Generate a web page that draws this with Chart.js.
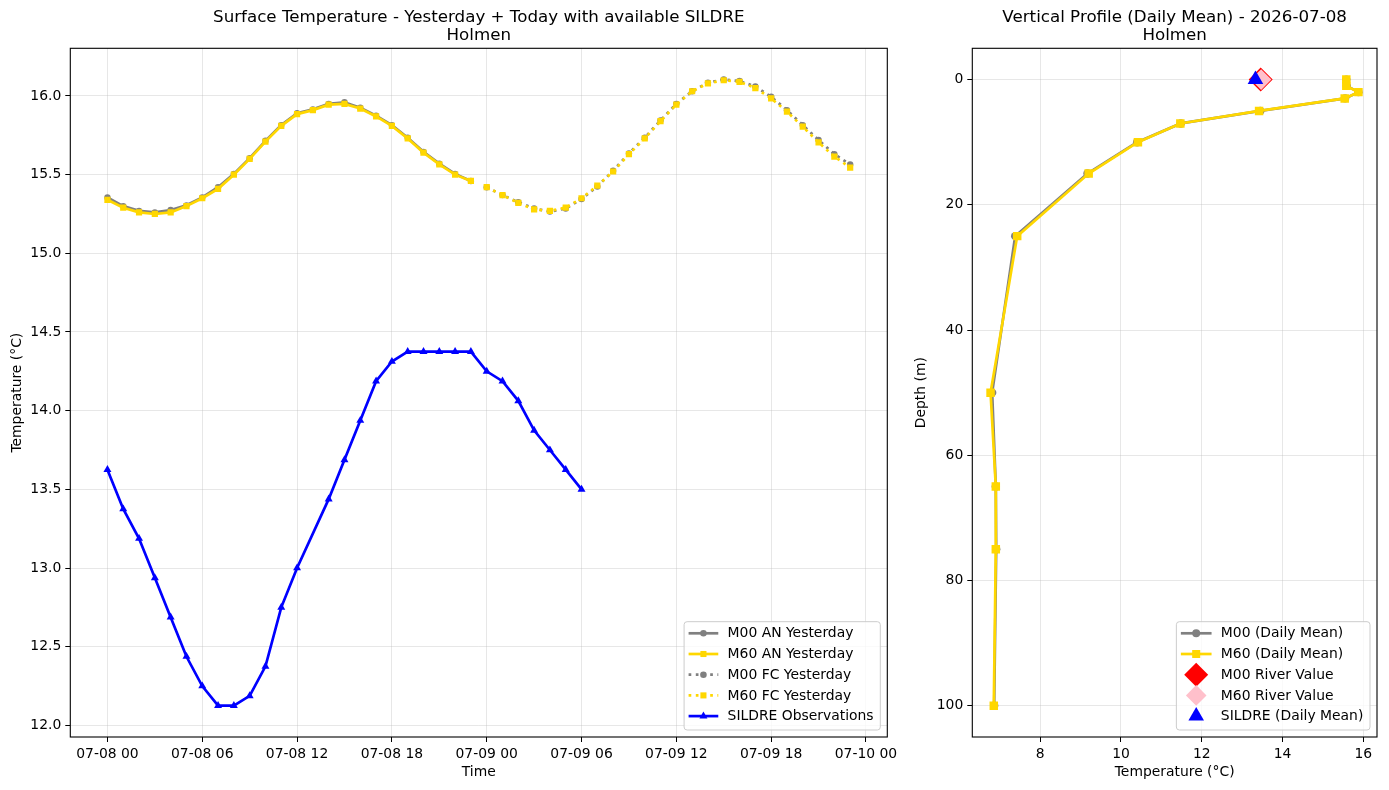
<!DOCTYPE html>
<html>
<head>
<meta charset="utf-8">
<script src="https://cdn.jsdelivr.net/npm/chart.js@4.4.1/dist/chart.umd.min.js"></script>
<style>
  html, body { margin: 0; padding: 0; background: #fff; }
  #wrap { position: relative; width: 1389px; height: 790px; overflow: hidden; }
  canvas { position: absolute; top: 0; }
  #surfaceChart { left: 0; }
  #profileChart { left: 890px; }
</style>
</head>
<body>
<div id="wrap">
  <canvas id="surfaceChart" width="905" height="790"></canvas>
  <canvas id="profileChart" width="499" height="790"></canvas>
</div>
<script>
// ── Data: surface temperature (hours since 07-08 00) ─────────────────────────
const anHours = [0, 1, 2, 3, 4, 5, 6, 7, 8, 9, 10, 11, 12, 13, 14, 15, 16, 17, 18, 19, 20, 21, 22, 23];
const fcHours = [24, 25, 26, 27, 28, 29, 30, 31, 32, 33, 34, 35, 36, 37, 38, 39, 40, 41, 42, 43, 44, 45, 46, 47];

const m00AnTemps = [15.355, 15.30, 15.27, 15.26, 15.275, 15.305, 15.355, 15.42, 15.505, 15.605, 15.715, 15.815,
                    15.89, 15.915, 15.95, 15.96, 15.925, 15.875, 15.815, 15.735, 15.645, 15.57, 15.505, 15.46];
const m60AnTemps = [15.34, 15.29, 15.26, 15.25, 15.26, 15.30, 15.35, 15.41, 15.50, 15.60, 15.71, 15.81,
                    15.885, 15.91, 15.945, 15.95, 15.92, 15.87, 15.81, 15.73, 15.64, 15.565, 15.50, 15.46];
const m00FcTemps = [15.42, 15.37, 15.325, 15.285, 15.265, 15.285, 15.345, 15.425, 15.525, 15.635, 15.735, 15.845,
                    15.95, 16.03, 16.085, 16.105, 16.095, 16.06, 15.995, 15.91, 15.815, 15.72, 15.63, 15.565];
const m60FcTemps = [15.42, 15.37, 15.32, 15.28, 15.27, 15.29, 15.35, 15.43, 15.52, 15.63, 15.73, 15.84,
                    15.945, 16.03, 16.08, 16.10, 16.09, 16.05, 15.985, 15.90, 15.805, 15.705, 15.615, 15.545];

const sildreHours = [0, 1, 2, 3, 4, 5, 6, 7, 8, 9, 10, 11, 12, 14, 15, 16, 17, 18, 19, 20, 21, 22, 23,
                     24, 25, 26, 27, 28, 29, 30];
const sildreTemps = [13.625, 13.375, 13.1875, 12.9375, 12.6875, 12.4375, 12.25, 12.125, 12.125, 12.1875, 12.375,
                     12.75, 13.0, 13.4375, 13.6875, 13.9375, 14.1875, 14.3125, 14.375, 14.375, 14.375, 14.375,
                     14.375, 14.25, 14.1875, 14.0625, 13.875, 13.75, 13.625, 13.5];

const timeTicks = [0, 6, 12, 18, 24, 30, 36, 42, 48];
const timeTickLabels = ['07-08 00', '07-08 06', '07-08 12', '07-08 18', '07-09 00',
                        '07-09 06', '07-09 12', '07-09 18', '07-10 00'];
const surfaceTempTicks = [12.0, 12.5, 13.0, 13.5, 14.0, 14.5, 15.0, 15.5, 16.0];

// ── Data: vertical profile ───────────────────────────────────────────────────
const profileDepths = [0, 1, 2, 3, 5, 7, 10, 15, 25, 50, 65, 75, 100];
const m00ProfileTemps = [15.58, 15.59, 15.88, 15.55, 13.45, 11.48, 10.40, 9.17, 7.38, 6.81, 6.90, 6.91, 6.86];
const m60ProfileTemps = [15.58, 15.58, 15.88, 15.54, 13.42, 11.47, 10.42, 9.20, 7.43, 6.77, 6.90, 6.90, 6.85];
const riverDepths = [0];
const m00RiverTemps = [13.46];
const m60RiverTemps = [13.47];
const sildreMeanDepths = [0];
const sildreMeanTemps = [13.33];

const profileTempTicks = [8, 10, 12, 14, 16];
const depthTicks = [0, 20, 40, 60, 80, 100];

// ── Look ─────────────────────────────────────────────────────────────────────
const GRAY = '#808080', GOLD = '#ffd700', BLUE = '#0000ff', RED = '#ff0000', PINK = '#ffc0cb';
const FONT_FAMILY = '"DejaVu Sans", sans-serif';
const FONT_SIZE = 13.9;
const TITLE_SIZE = 16.7;
const LINE_W = 2.7;
const GRID = 'rgba(176,176,176,0.3)';

Chart.defaults.font.family = FONT_FAMILY;
Chart.defaults.font.size = FONT_SIZE;
Chart.defaults.color = '#000';

const pts = (xs, ys) => xs.map((x, i) => ({ x, y: ys[i] }));

function lineSet(label, data, color, style, radius, dash, order) {
    return {
        label, data, order,
        showLine: true,
        borderColor: color,
        backgroundColor: color,
        borderWidth: LINE_W,
        borderDash: dash || [],
        borderCapStyle: 'butt',
        pointStyle: style,
        pointRadius: radius,
        pointBackgroundColor: color,
        pointBorderColor: color,
        pointBorderWidth: 0,
        tension: 0,
        fill: false,
    };
}

function markerSet(label, data, color, style, radius, order) {
    return {
        label, data, order,
        showLine: false,
        pointStyle: style,
        pointRadius: radius,
        pointBackgroundColor: color,
        pointBorderColor: color,
        pointBorderWidth: 0,
    };
}

function axis(min, max, tickValues, fmt, titleText, titlePad, fitSize, isX, reverse) {
    return {
        type: 'linear',
        min, max, reverse: !!reverse,
        afterBuildTicks: s => { s.ticks = tickValues.map(v => ({ value: v })); },
        afterFit: s => { if (isX) s.height = fitSize; else s.width = fitSize; },
        ticks: { callback: fmt, padding: 4, maxRotation: 0, autoSkip: false, color: '#000' },
        grid: { color: GRID, lineWidth: 1, tickColor: '#000', tickLength: 5, tickWidth: 1 },
        border: { display: false },
        title: { display: true, text: titleText, padding: titlePad, color: '#000' },
    };
}

// ── Marker drawing for the legend ────────────────────────────────────────────
function drawMarker(ctx, style, r, x, y) {
    ctx.beginPath();
    if (style === 'circle') {
        ctx.arc(x, y, r, 0, Math.PI * 2);
    } else if (style === 'rect') {
        const s = r * Math.SQRT1_2;
        ctx.rect(x - s, y - s, 2 * s, 2 * s);
    } else if (style === 'rectRot') {
        ctx.moveTo(x - r, y); ctx.lineTo(x, y - r); ctx.lineTo(x + r, y); ctx.lineTo(x, y + r);
        ctx.closePath();
    } else if (style === 'triangle') {
        ctx.moveTo(x, y - r);
        ctx.lineTo(x + r * 0.866, y + r * 0.5);
        ctx.lineTo(x - r * 0.866, y + r * 0.5);
        ctx.closePath();
    }
    ctx.fill();
}

// ── Frame, two-line title and matplotlib-like legend ─────────────────────────
function makeDecor(cfg) {
    return {
        id: 'mplDecor',
        afterDraw(chart) {
            const { ctx, chartArea: a } = chart;
            ctx.save();

            ctx.strokeStyle = '#000';
            ctx.lineWidth = 1.1;
            ctx.setLineDash([]);
            ctx.strokeRect(a.left, a.top, a.right - a.left, a.bottom - a.top);

            ctx.fillStyle = '#000';
            ctx.textAlign = 'center';
            ctx.textBaseline = 'alphabetic';
            ctx.font = `${TITLE_SIZE}px ${FONT_FAMILY}`;
            const cx = (a.left + a.right) / 2;
            cfg.title.forEach((t, i) => ctx.fillText(t, cx, cfg.titleBase[i]));

            const lg = cfg.legend;
            ctx.font = `${FONT_SIZE}px ${FONT_FAMILY}`;
            const textW = Math.max(...lg.items.map(it => ctx.measureText(it.label).width));
            const w = 4.5 + lg.handleLen + 9.3 + textW + 6.7;
            const h = 11.6 + (lg.items.length - 1) * 20.7 + 13.9;
            const x = a.right - 7 - w;
            const y = a.bottom - 7 - h;

            ctx.beginPath();
            ctx.roundRect(x, y, w, h, 3);
            ctx.fillStyle = 'rgba(255,255,255,0.8)';
            ctx.fill();
            ctx.strokeStyle = '#cccccc';
            ctx.lineWidth = 1;
            ctx.stroke();

            lg.items.forEach((it, i) => {
                const cy = y + 11.6 + i * 20.7;
                const x0 = x + 4.5, x1 = x0 + lg.handleLen;
                if (it.line) {
                    ctx.beginPath();
                    ctx.setLineDash(it.dash || []);
                    ctx.strokeStyle = it.color;
                    ctx.lineWidth = LINE_W;
                    ctx.lineCap = 'butt';
                    ctx.moveTo(x0, cy);
                    ctx.lineTo(x1, cy);
                    ctx.stroke();
                    ctx.setLineDash([]);
                }
                ctx.fillStyle = it.color;
                drawMarker(ctx, it.style, it.radius, (x0 + x1) / 2, cy);
                ctx.fillStyle = '#000';
                ctx.textAlign = 'left';
                ctx.textBaseline = 'middle';
                ctx.fillText(it.label, x1 + 9.3, cy + 0.5);
            });
            ctx.restore();
        }
    };
}

// ── Surface temperature chart ────────────────────────────────────────────────
const DOT = [2.7, 4.5];

new Chart(document.getElementById('surfaceChart'), {
    type: 'scatter',
    data: {
        datasets: [
            lineSet('M00 AN Yesterday', pts(anHours, m00AnTemps), GRAY, 'circle', 3.2, null, 5),
            lineSet('M60 AN Yesterday', pts(anHours, m60AnTemps), GOLD, 'rect', 4.4, null, 4),
            lineSet('M00 FC Yesterday', pts(fcHours, m00FcTemps), GRAY, 'circle', 3.2, DOT, 3),
            lineSet('M60 FC Yesterday', pts(fcHours, m60FcTemps), GOLD, 'rect', 4.4, DOT, 2),
            lineSet('SILDRE Observations', pts(sildreHours, sildreTemps), BLUE, 'triangle', 4.6, null, 1),
        ]
    },
    options: {
        responsive: false,
        animation: false,
        devicePixelRatio: 1,
        layout: { padding: { top: 48.3, right: 17.7, left: 0, bottom: 0 } },
        plugins: { legend: { display: false }, tooltip: { enabled: false }, title: { display: false } },
        scales: {
            x: axis(-2.35, 49.35, timeTicks, v => timeTickLabels[timeTicks.indexOf(v)] ?? '',
                    'Time', { top: 0, bottom: 9 }, 53, true),
            y: axis(11.926, 16.303, surfaceTempTicks, v => v.toFixed(1),
                    'Temperature (°C)', { top: 9, bottom: 0 }, 70.3, false),
        }
    },
    plugins: [makeDecor({
        title: ['Surface Temperature - Yesterday + Today with available SILDRE', 'Holmen'],
        titleBase: [22, 39.5],
        legend: {
            handleLen: 29.7,
            items: [
                { label: 'M00 AN Yesterday', color: GRAY, line: true, style: 'circle', radius: 3.3 },
                { label: 'M60 AN Yesterday', color: GOLD, line: true, style: 'rect', radius: 4.3 },
                { label: 'M00 FC Yesterday', color: GRAY, line: true, dash: DOT, style: 'circle', radius: 3.3 },
                { label: 'M60 FC Yesterday', color: GOLD, line: true, dash: DOT, style: 'rect', radius: 4.3 },
                { label: 'SILDRE Observations', color: BLUE, line: true, style: 'triangle', radius: 4.6 },
            ]
        }
    })]
});

// ── Vertical profile chart ───────────────────────────────────────────────────
new Chart(document.getElementById('profileChart'), {
    type: 'scatter',
    data: {
        datasets: [
            lineSet('M00 (Daily Mean)', pts(m00ProfileTemps, profileDepths), GRAY, 'circle', 4.2, null, 5),
            lineSet('M60 (Daily Mean)', pts(m60ProfileTemps, profileDepths), GOLD, 'rect', 6, null, 4),
            markerSet('M00 River Value', pts(m00RiverTemps, riverDepths), RED, 'rectRot', 12, 3),
            markerSet('M60 River Value', pts(m60RiverTemps, riverDepths), PINK, 'rectRot', 10.3, 2),
            markerSet('SILDRE (Daily Mean)', pts(sildreMeanTemps, sildreMeanDepths), BLUE, 'triangle', 9, 1),
        ]
    },
    options: {
        responsive: false,
        animation: false,
        devicePixelRatio: 1,
        layout: { padding: { top: 48.3, right: 9, left: 0, bottom: 0 } },
        plugins: { legend: { display: false }, tooltip: { enabled: false }, title: { display: false } },
        scales: {
            x: axis(6.318, 16.34, profileTempTicks, v => String(v),
                    'Temperature (°C)', { top: 0, bottom: 9 }, 53, true),
            y: axis(-5, 105, depthTicks, v => String(v),
                    'Depth (m)', { top: 23, bottom: 0 }, 82.3, false, true),
        }
    },
    plugins: [makeDecor({
        title: ['Vertical Profile (Daily Mean) - 2026-07-08', 'Holmen'],
        titleBase: [22, 39.5],
        legend: {
            handleLen: 30.7,
            items: [
                { label: 'M00 (Daily Mean)', color: GRAY, line: true, style: 'circle', radius: 4 },
                { label: 'M60 (Daily Mean)', color: GOLD, line: true, style: 'rect', radius: 5.7 },
                { label: 'M00 River Value', color: RED, line: false, style: 'rectRot', radius: 12 },
                { label: 'M60 River Value', color: PINK, line: false, style: 'rectRot', radius: 10.3 },
                { label: 'SILDRE (Daily Mean)', color: BLUE, line: false, style: 'triangle', radius: 9 },
            ]
        }
    })]
});
</script>
</body>
</html>
